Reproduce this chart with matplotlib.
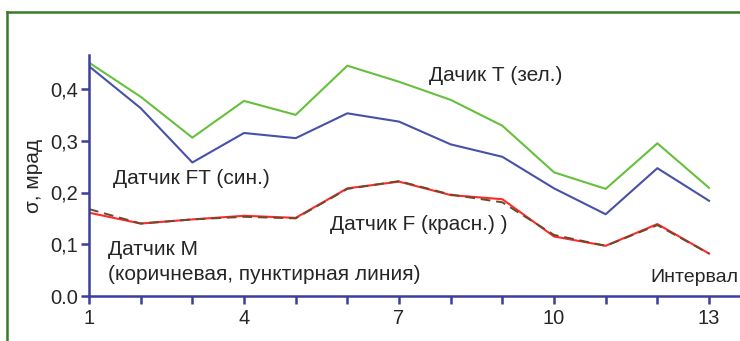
import matplotlib
matplotlib.use("Agg")
import matplotlib.pyplot as plt
from matplotlib.lines import Line2D

plt.rcParams['font.family'] = ['Liberation Sans', 'DejaVu Sans']

intervals = list(range(1, 14))
sensor_T = [0.451, 0.385, 0.306, 0.377, 0.350, 0.445, 0.414, 0.379, 0.329, 0.239, 0.207, 0.295, 0.209]
sensor_FT = [0.444, 0.363, 0.258, 0.315, 0.305, 0.353, 0.337, 0.293, 0.269, 0.208, 0.158, 0.247, 0.184]
sensor_F = [0.161, 0.140, 0.148, 0.155, 0.151, 0.208, 0.221, 0.195, 0.187, 0.115, 0.097, 0.139, 0.082]
sensor_M = [0.168, 0.140, 0.148, 0.153, 0.150, 0.207, 0.222, 0.196, 0.181, 0.118, 0.097, 0.137, 0.082]

y_ticks = [0.0, 0.1, 0.2, 0.3, 0.4]
y_tick_labels = ["0.0", "0,1", "0,2", "0,3", "0,4"]
x_tick_labels = [1, 4, 7, 10, 13]

W, H = 740, 341
fig = plt.figure(figsize=(W / 100, H / 100), dpi=100)
fig.patch.set_facecolor('white')

# outer green frame (left and top edges)
frame_col = '#3b7a25'
fig.add_artist(Line2D([7 / W, 7 / W], [0, 1 - 12 / H], color=frame_col, lw=1.8, transform=fig.transFigure))
fig.add_artist(Line2D([7 / W, 1], [1 - 12 / H, 1 - 12 / H], color=frame_col, lw=1.8, transform=fig.transFigure))

ax = fig.add_axes([89 / W, (H - 296) / H, (W - 89) / W, (296 - 55) / H])
axis_col = '#3a3f9e'
text_col = '#262626'

ax.plot(intervals, sensor_T, color='#66c03c', lw=1.5)
ax.plot(intervals, sensor_FT, color='#4651a8', lw=1.5)
ax.plot(intervals, sensor_F, color='#ff2a2a', lw=1.5)
ax.plot(intervals, sensor_M, color='#6a4a2c', lw=1.4, ls=(0, (5, 3)))

ax.set_xlim(1, 1 + (W - 89) / 51.67)
ax.set_ylim(0, (296 - 55) / 517.5)

for s in ['top', 'right']:
    ax.spines[s].set_visible(False)
for s in ['left', 'bottom']:
    ax.spines[s].set_color(axis_col)
    ax.spines[s].set_linewidth(1.8)

ax.set_yticks(y_ticks)
ax.set_yticklabels(y_tick_labels)
ax.set_xticks(x_tick_labels)
ax.set_xticklabels([str(v) for v in x_tick_labels])
ax.set_xticks(intervals, minor=True)
ax.tick_params(axis='both', which='both', direction='out', color=axis_col, width=1.8, length=6,
               labelsize=14.5, labelcolor=text_col)
ax.tick_params(axis='y', pad=2)
ax.tick_params(axis='x', pad=3)

ax.set_ylabel('σ, мрад', fontsize=15, color=text_col, labelpad=5)

txt = dict(fontsize=15, color=text_col, transform=ax.transData, va='center', ha='left')
ax.text(7.58, 0.426, 'Дачик Т (зел.)', **txt)
ax.text(1.46, 0.227, 'Датчик FT (син.)', **txt)
ax.text(5.67, 0.138, 'Датчик F (красн.) )', **txt)
ax.text(1.37, 0.089, 'Датчик М', **txt)
ax.text(1.37, 0.041, '(коричневая, пунктирная линия)', **txt)
ax.text(11.87, 0.035, 'Интервал', **{**txt, 'fontsize': 14})

fig.savefig('out.png', dpi=100, facecolor='white')
